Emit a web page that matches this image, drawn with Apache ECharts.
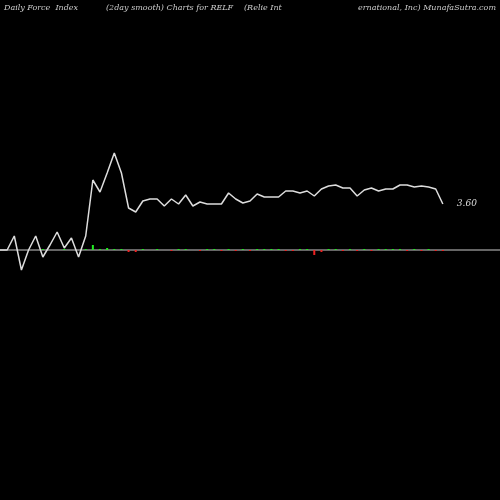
<!DOCTYPE html><html><head><meta charset="utf-8"><script src="https://cdn.jsdelivr.net/npm/echarts@6/dist/echarts.min.js"></script>
<style>html,body{margin:0;background:#000}#c{width:500px;height:500px}</style></head><body><div id="c"></div><script>
const lineVals=[0,0,14,-20,0,14,-7,5,18,2,12,-7,14,70,58,77,97,77,42,38,49,51,51,44,51,46,55,44,48,46,46,46,57,51,47,49,56,53,53,53,59,59,57,59,54,61,64,65,62,62,54,60,62,59,61,61,65,65,63,64,63,61,46];
const barVals=[0,0,0,0,0,0,1,0,0,1,0,0,1,5,1,2,1,1,-2,-2,1,0,1,0,-1,1,1,0,-1,1,1,-1,1,-1,1,-1,1,1,1,1,-1,-1,1,1,-5,-2,1,1,-1,1,-1,1,-1,1,1,1,1,-1,1,-1,1,-1,-1];
const lastLabel="3.60";
const ch=echarts.init(document.getElementById('c'));
const tf={fontFamily:'DejaVu Serif',fontStyle:'italic',fontSize:8,fill:'#ccc'};
ch.setOption({backgroundColor:'#000',animation:false,
grid:{left:0,right:0,top:0,bottom:0},
xAxis:{type:'value',min:0,max:70,show:true,splitLine:{show:false},axisTick:{show:false},axisLabel:{show:false},axisLine:{show:true,onZero:true,lineStyle:{color:'#888',width:1.5}}},
yAxis:{type:'value',min:-250,max:250,show:false,splitLine:{show:false}},
graphic:[
{type:'text',left:4,top:4,style:Object.assign({text:'Daily Force  Index'},tf)},
{type:'text',left:106,top:4,style:Object.assign({text:'(2day smooth) Charts for RELF'},tf)},
{type:'text',left:244,top:4,style:Object.assign({text:'(Relie Int'},tf)},
{type:'text',right:4,top:4,style:Object.assign({text:'ernational, Inc) MunafaSutra.com'},tf)}],
series:[
{type:'bar',barWidth:2,data:barVals.map((v,i)=>({value:[i,v],itemStyle:{color:v>=0?'#2e2':'#e22'}}))},
{type:'line',symbol:'none',lineStyle:{color:'#ddd',width:1.5},data:lineVals.map((v,i)=>[i,v]),
 endLabel:{show:true,formatter:lastLabel,color:'#ddd',fontFamily:'DejaVu Serif',fontStyle:'italic',fontSize:9,offset:[6,0]}}
]});
</script></body></html>
